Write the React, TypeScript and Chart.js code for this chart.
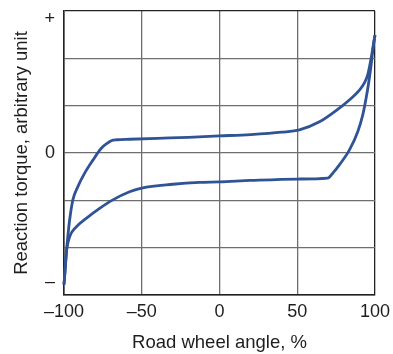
import React, { useEffect, useRef } from "react";
import { Chart, registerables } from "chart.js";

Chart.register(...registerables);

// Upper branch of the hysteresis loop (road wheel angle %, reaction torque)
const upperX = [-100, -99.2, -98.5, -97.5, -96.4, -94.3, -91.1, -86.8, -81.4, -76, -72, -69.6, -66, -57.8, -40, -20, 0, 20, 40, 51.4, 64.3, 77.1, 83.5, 90, 93.2, 95.3, 97.5, 100];
const upperY = [-2.78, -2.45, -2.11, -1.75, -1.42, -0.99, -0.71, -0.43, -0.15, 0.1, 0.21, 0.26, 0.28, 0.29, 0.31, 0.33, 0.36, 0.39, 0.44, 0.49, 0.66, 0.95, 1.12, 1.33, 1.48, 1.65, 2.0, 2.49];

// Lower branch
const lowerX = [-100, -99.2, -98.3, -96.4, -92.1, -85.7, -77.1, -68.6, -57.8, -50, -30, -12.9, 0, 20, 50, 69.6, 73, 77.1, 83.5, 88.9, 92.1, 94.3, 96, 97.5, 99, 100];
const lowerY = [-2.78, -2.4, -2.05, -1.77, -1.56, -1.38, -1.17, -0.99, -0.82, -0.74, -0.66, -0.62, -0.61, -0.58, -0.55, -0.53, -0.42, -0.25, 0.06, 0.45, 0.8, 1.16, 1.5, 1.86, 2.28, 2.49];

const xTickValues = [-100, -50, 0, 50, 100];
const yGridValues = [-3, -2, -1, 0, 1, 2, 3];
const yLabelValues = [2.83, 0, -2.73];
const yLabelTexts = ["+", "0", "\u2013"];

const xTitle = "Road wheel angle, %";
const yTitle = "Reaction torque, arbitrary unit";

const FONT = "'Liberation Sans', Arial, Helvetica, sans-serif";
const LINE_COLOR = "#2f5394";
const TEXT_COLOR = "#1e1e1e";
const GRID_COLOR = "#6e6e6e";
const BORDER_COLOR = "#222222";

export default function App() {
  const ref = useRef<HTMLCanvasElement | null>(null);

  useEffect(() => {
    document.body.style.margin = "0";
    const canvas = ref.current;
    if (!canvas) return;

    const yTickValues = Array.from(new Set([...yGridValues, ...yLabelValues])).sort((a, b) => a - b);

    const chart = new Chart(canvas, {
      type: "scatter",
      data: {
        datasets: [
          {
            data: upperX.map((x, i) => ({ x, y: upperY[i] })),
            showLine: true,
            borderColor: LINE_COLOR,
            backgroundColor: LINE_COLOR,
            borderWidth: 2.8,
            pointRadius: 0,
            cubicInterpolationMode: "monotone",
            fill: false,
            clip: 6,
          },
          {
            data: lowerX.map((x, i) => ({ x, y: lowerY[i] })),
            showLine: true,
            borderColor: LINE_COLOR,
            backgroundColor: LINE_COLOR,
            borderWidth: 2.8,
            pointRadius: 0,
            cubicInterpolationMode: "monotone",
            fill: false,
            clip: 6,
          },
        ],
      },
      options: {
        animation: false,
        responsive: false,
        devicePixelRatio: 1,
        layout: { padding: { top: 11, right: 18, left: 0, bottom: 0 } },
        plugins: { legend: { display: false }, tooltip: { enabled: false } },
        scales: {
          x: {
            type: "linear",
            min: -100,
            max: 100,
            afterBuildTicks: (scale: any) => {
              scale.ticks = xTickValues.map((v) => ({ value: v }));
            },
            afterFit: (scale: any) => {
              scale.height = 59;
              scale.paddingLeft = 0;
              scale.paddingRight = 0;
            },
            ticks: {
              autoSkip: false,
              maxRotation: 0,
              padding: 6,
              color: TEXT_COLOR,
              font: { family: FONT, size: 18 },
              callback: (v: any) => {
                const n = Number(v);
                return n < 0 ? "\u2013" + Math.abs(n) : String(n);
              },
            },
            grid: {
              drawTicks: false,
              lineWidth: 1.3,
              color: (ctx: any) => (ctx.tick && Math.abs(ctx.tick.value) === 100 ? BORDER_COLOR : GRID_COLOR),
            },
            border: { display: true, color: BORDER_COLOR, width: 1.5 },
            title: {
              display: true,
              text: xTitle,
              color: TEXT_COLOR,
              font: { family: FONT, size: 18.5, lineHeight: 1 },
              padding: { top: 0, bottom: 1.5 },
            },
          },
          y: {
            type: "linear",
            min: -3,
            max: 3,
            afterBuildTicks: (scale: any) => {
              scale.ticks = yTickValues.map((v) => ({ value: v }));
            },
            afterFit: (scale: any) => {
              scale.width = 64;
              scale.paddingTop = 0;
              scale.paddingBottom = 0;
            },
            ticks: {
              autoSkip: false,
              padding: 9,
              color: TEXT_COLOR,
              font: { family: FONT, size: 18 },
              callback: (v: any) => {
                const idx = yLabelValues.indexOf(Number(v));
                return idx >= 0 ? yLabelTexts[idx] : "";
              },
            },
            grid: {
              drawTicks: false,
              lineWidth: 1.3,
              color: (ctx: any) => {
                const v = ctx.tick ? ctx.tick.value : 0;
                if (!yGridValues.includes(v)) return "rgba(0,0,0,0)";
                if (Math.abs(v) === 3) return BORDER_COLOR;
                return GRID_COLOR;
              },
            },
            border: { display: true, color: BORDER_COLOR, width: 1.5 },
            title: {
              display: true,
              text: yTitle,
              color: TEXT_COLOR,
              font: { family: FONT, size: 18.5, lineHeight: 1 },
              padding: { top: 13, bottom: 0 },
            },
          },
        },
      },
    });

    return () => chart.destroy();
  }, []);

  return (
    <div style={{ width: 393, height: 354 }}>
      <canvas ref={ref} width={393} height={354} style={{ display: "block" }} />
    </div>
  );
}
